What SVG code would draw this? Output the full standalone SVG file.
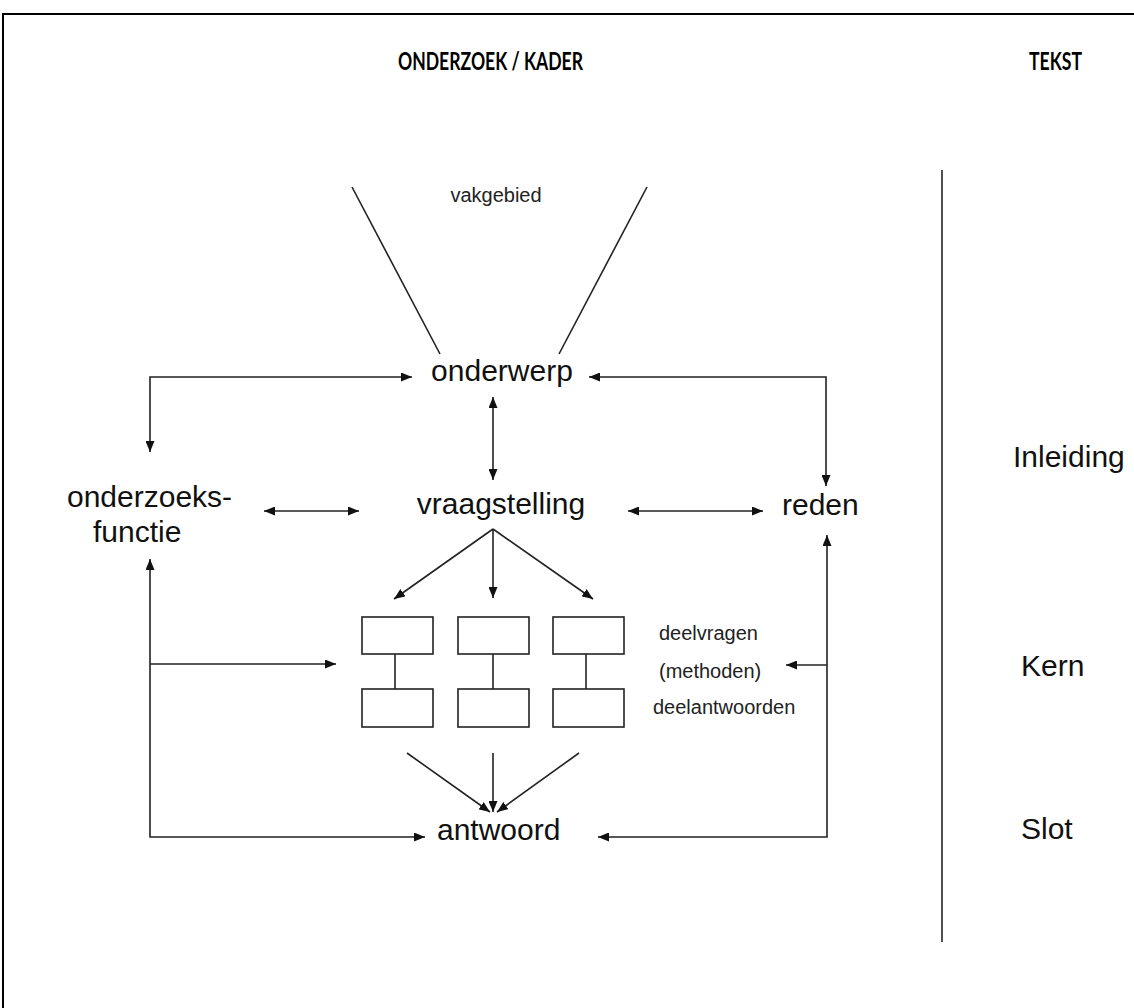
<svg xmlns="http://www.w3.org/2000/svg" width="1134" height="1008" viewBox="0 0 1134 1008">
<style>
.t{font-family:"Liberation Sans",Arial,sans-serif;fill:#111}
.big{font-size:30px}
.sm{font-size:20px;fill:#222}
.hd{font-family:Lato,"Liberation Sans",Arial,sans-serif;font-weight:bold;font-size:24px;fill:#000}
.ln{fill:none;stroke:#222;stroke-width:1.6}
.ar{fill:none;stroke:#222;stroke-width:1.6;marker-end:url(#ah)}
.ar2{fill:none;stroke:#222;stroke-width:1.6;marker-start:url(#ah);marker-end:url(#ah)}
.box{fill:#fff;stroke:#222;stroke-width:1.6}
</style>
<defs>
<marker id="ah" markerUnits="userSpaceOnUse" markerWidth="11" markerHeight="9" refX="11" refY="4.5" orient="auto-start-reverse">
<path d="M0,0 L11,4.5 L0,9 z" fill="#111"/>
</marker>
</defs>
<rect width="1134" height="1008" fill="#fff"/>
<rect x="3" y="14" width="1300" height="1200" fill="none" stroke="#000" stroke-width="2"/>
<g id="headers">
<text class="hd" x="398" y="70" textLength="185" lengthAdjust="spacingAndGlyphs">ONDERZOEK / KADER</text>
<text class="hd" x="1029" y="70" textLength="53" lengthAdjust="spacingAndGlyphs">TEKST</text>
</g>
<g id="separator"><line class="ln" x1="942" y1="170" x2="942" y2="942"/></g>
<g id="vakgebied">
<line class="ln" x1="352" y1="187" x2="440" y2="354"/>
<line class="ln" x1="647" y1="187" x2="559" y2="354"/>
<text class="t sm" x="496" y="202" text-anchor="middle">vakgebied</text>
</g>
<g id="onderwerp"><text class="t big" x="502" y="381" text-anchor="middle">onderwerp</text></g>
<g id="vraagstelling"><text class="t big" x="501" y="514" text-anchor="middle">vraagstelling</text></g>
<g id="onderzoeksfunctie">
<text class="t big" x="67" y="507">onderzoeks-</text>
<text class="t big" x="93" y="542">functie</text>
</g>
<g id="reden"><text class="t big" x="782" y="515">reden</text></g>
<g id="antwoord"><text class="t big" x="437" y="840">antwoord</text></g>
<g id="deelvragen">
<rect class="box" x="362" y="617" width="71" height="37"/>
<rect class="box" x="458" y="617" width="71" height="37"/>
<rect class="box" x="553" y="617" width="71" height="37"/>
<rect class="box" x="362" y="689" width="71" height="38"/>
<rect class="box" x="458" y="689" width="71" height="38"/>
<rect class="box" x="553" y="689" width="71" height="38"/>
<line class="ln" x1="395" y1="654" x2="395" y2="689"/>
<line class="ln" x1="493" y1="654" x2="493" y2="689"/>
<line class="ln" x1="586" y1="654" x2="586" y2="689"/>
<text class="t sm" x="659" y="640">deelvragen</text>
<text class="t sm" x="659" y="678">(methoden)</text>
<text class="t sm" x="653" y="714">deelantwoorden</text>
</g>
<g id="tekst-delen">
<text class="t big" x="1013" y="467">Inleiding</text>
<text class="t big" x="1021" y="676">Kern</text>
<text class="t big" x="1021" y="839">Slot</text>
</g>
<g id="connectors">
<path class="ar2" d="M412,377 H150 V452"/>
<path class="ar2" d="M589,377 H826 V486"/>
<path class="ar2" d="M493,397 V480"/>
<path class="ar2" d="M264,511 H359"/>
<path class="ar2" d="M628,511 H763"/>
<path class="ar" d="M493,529 L394,599"/>
<path class="ar" d="M493,529 V598"/>
<path class="ar" d="M493,529 L593,599"/>
<path class="ar" d="M407,753 L490,812"/>
<path class="ar" d="M493,753 V812"/>
<path class="ar" d="M579,753 L497,812"/>
<path class="ar2" d="M150,559 V837 H425"/>
<path class="ar" d="M150,664 H336"/>
<path class="ar2" d="M827,535 V837 H598"/>
<path class="ar" d="M827,665 H786"/>
</g>
</svg>
